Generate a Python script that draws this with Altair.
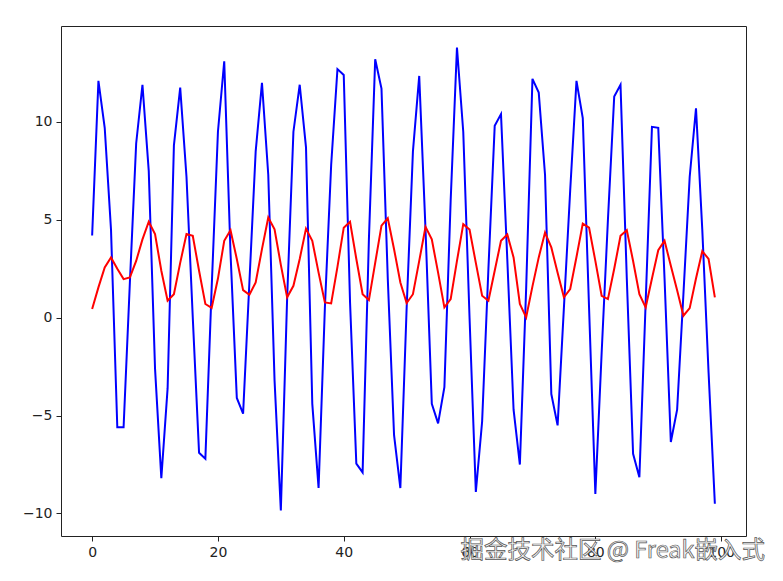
import altair as alt
import pandas as pd

x_values = list(range(100))

blue_values = [
    4.2, 12.1, 9.7, 4.5, -5.6, -5.6, 1.8, 8.9, 11.9, 7.5,
    -2.6, -8.2, -3.6, 8.8, 11.75, 7.2, 0.0, -6.9, -7.2, 1.5,
    9.5, 13.1, 3.3, -4.1, -4.9, 1.8, 8.5, 12.0, 7.3, -3.2,
    -9.85, 1.0, 9.5, 11.9, 8.7, -4.4, -8.7, 0.5, 7.8, 12.7,
    12.4, 0.8, -7.45, -7.9, 4.0, 13.2, 11.7, 2.0, -6.0, -8.7,
    0.5, 8.5, 12.35, 4.5, -4.4, -5.4, -3.55, 6.0, 13.8, 9.5,
    0.0, -8.9, -5.3, 2.5, 9.8, 10.4, 3.0, -4.7, -7.5, 1.5,
    12.2, 11.5, 7.3, -3.9, -5.5, 0.5, 6.5, 12.1, 10.2, 0.5,
    -9.0, -1.8, 5.0, 11.3, 11.9, 2.0, -6.95, -8.15, 0.8, 9.75,
    9.7, 2.0, -6.35, -4.7, 1.2, 7.2, 10.7, 4.5, -2.8, -9.5,
]

red_values = [
    0.44, 1.55, 2.57, 3.08, 2.5, 1.97, 2.06, 2.9, 4.0, 4.9,
    4.27, 2.4, 0.87, 1.2, 2.8, 4.27, 4.18, 2.4, 0.7, 0.5,
    2.0, 3.93, 4.47, 3.0, 1.41, 1.17, 1.8, 3.5, 5.12, 4.52,
    2.7, 1.04, 1.63, 3.0, 4.55, 3.93, 2.3, 0.78, 0.73, 2.6,
    4.6, 4.9, 3.0, 1.2, 0.9, 2.8, 4.7, 5.08, 3.5, 1.8,
    0.75, 1.2, 2.9, 4.64, 4.0, 2.3, 0.53, 0.95, 2.9, 4.78,
    4.5, 2.8, 1.12, 0.87, 2.4, 3.93, 4.25, 3.08, 0.7, 0.02,
    1.6, 3.08, 4.35, 3.59, 2.3, 1.04, 1.46, 3.1, 4.81, 4.6,
    2.9, 1.12, 0.95, 2.5, 4.18, 4.47, 2.9, 1.2, 0.53, 2.0,
    3.45, 3.93, 2.65, 1.4, 0.1, 0.49, 2.0, 3.4, 3.0, 1.04,
]

series_names = ["blue", "red"]
series_colors = ["#0000ff", "#ff0000"]
x_ticks = [0, 20, 40, 60, 80, 100]
y_ticks = [-10, -5, 0, 5, 10]
watermark = "掘金技术社区 @ Freak嵌入式"

df = pd.DataFrame({
    "x": x_values + x_values,
    "y": blue_values + red_values,
    "series": [series_names[0]] * len(blue_values) + [series_names[1]] * len(red_values),
})

xscale = alt.Scale(domain=[-4.95, 103.95], nice=False, zero=False)
yscale = alt.Scale(domain=[-11.15, 14.9], nice=False, zero=False)

axis_common = dict(
    title=None, grid=False, domain=False, ticks=True, tickSize=5,
    tickColor="#222222", tickWidth=1, labelFont="DejaVu Sans",
    labelFontSize=14, labelColor="#222222", labelPadding=4,
)

lines = alt.Chart(df).mark_line(strokeWidth=2, clip=True).encode(
    x=alt.X("x:Q", scale=xscale, axis=alt.Axis(values=x_ticks, **axis_common)),
    y=alt.Y("y:Q", scale=yscale, axis=alt.Axis(values=y_ticks, **axis_common)),
    color=alt.Color("series:N", scale=alt.Scale(domain=series_names, range=series_colors), legend=None),
    order=alt.Order("x:Q"),
)

wm = alt.Chart(pd.DataFrame({"t": [watermark]})).mark_text(
    align="right", baseline="middle", fontSize=23.5, font="Noto Sans CJK SC",
    fill="#f4f4f4", stroke="#555555", strokeWidth=0.7,
).encode(text="t:N", x=alt.value(704), y=alt.value(525))

chart = alt.layer(lines, wm).properties(
    width=685, height=510,
    autosize=alt.AutoSizeParams(type="none"),
    padding={"left": 53, "top": 18, "right": 20, "bottom": 30},
).configure_view(stroke="#222222", strokeWidth=1)

chart.save("out.html", embed_options={"renderer": "svg", "actions": False})
